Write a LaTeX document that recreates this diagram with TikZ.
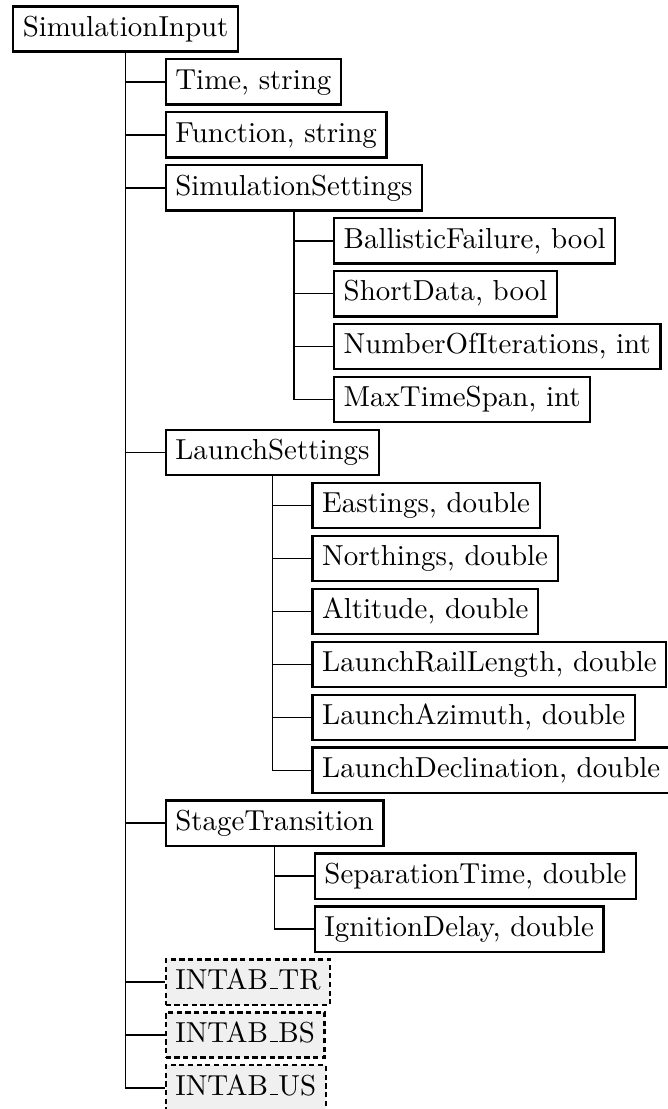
\documentclass[tikz,border=0pt]{standalone}
\usepackage{tikz}
\usepackage{xcolor}
\usetikzlibrary{positioning}

\newcommand{\uscore}{\leavevmode\kern.06em\vbox{\hrule width.3em}}

\tikzset{
  field/.style={draw, line width=0.8pt, anchor=west, inner sep=3.33pt, text height=7pt, text depth=2pt},
  tabfield/.style={field, dash pattern=on 1.8pt off 1.2pt, fill=black!6},
  link/.style={line width=0.5pt}
}

\begin{document}
\begin{tikzpicture}
  \useasboundingbox (-4.15pt,10.03pt) rectangle (226.65pt,-373.7pt);
  % Rows
  \foreach \k in {0,...,20} \coordinate (r\k) at (0,-\k*18.32pt);

  % Root
  \node[field] (root) at (r0) {SimulationInput};

  % Level 1
  \node[field, xshift=13.5pt] (time) at (root.south |- r1) {Time, string};
  \node[field, xshift=13.5pt] (func) at (root.south |- r2) {Function, string};
  \node[field, xshift=13.5pt] (simset) at (root.south |- r3) {SimulationSettings};
  \node[field, xshift=13.5pt] (launch) at (root.south |- r8) {LaunchSettings};
  \node[field, xshift=13.5pt] (stage) at (root.south |- r15) {StageTransition};
  \node[tabfield, xshift=13.5pt] (intr) at (root.south |- r18) {INTAB\uscore TR};
  \node[tabfield, xshift=13.5pt] (inbs) at (root.south |- r19) {INTAB\uscore BS};
  \node[tabfield, xshift=13.5pt] (inus) at (root.south |- r20) {INTAB\uscore US};

  % Simulation settings
  \node[field, xshift=13.5pt] (ballistic) at (simset.south |- r4) {BallisticFailure, bool};
  \node[field, xshift=13.5pt] (shortdata) at (simset.south |- r5) {ShortData, bool};
  \node[field, xshift=13.5pt] (niter) at (simset.south |- r6) {NumberOfIterations, int};
  \node[field, xshift=13.5pt] (maxspan) at (simset.south |- r7) {MaxTimeSpan, int};

  % Launch settings
  \node[field, xshift=13.5pt] (east) at (launch.south |- r9) {Eastings, double};
  \node[field, xshift=13.5pt] (north) at (launch.south |- r10) {Northings, double};
  \node[field, xshift=13.5pt] (alt) at (launch.south |- r11) {Altitude, double};
  \node[field, xshift=13.5pt] (rail) at (launch.south |- r12) {LaunchRailLength, double};
  \node[field, xshift=13.5pt] (azim) at (launch.south |- r13) {LaunchAzimuth, double};
  \node[field, xshift=13.5pt] (decl) at (launch.south |- r14) {LaunchDeclination, double};

  % Stage transition
  \node[field, xshift=13.5pt] (septime) at (stage.south |- r16) {SeparationTime, double};
  \node[field, xshift=13.5pt] (igdelay) at (stage.south |- r17) {IgnitionDelay, double};

  % Connections
  \foreach \c in {time,func,simset,launch,stage,intr,inbs,inus}
    \draw[link] (root.south) |- (\c.west);
  \foreach \c in {ballistic,shortdata,niter,maxspan}
    \draw[link] (simset.south) |- (\c.west);
  \foreach \c in {east,north,alt,rail,azim,decl}
    \draw[link] (launch.south) |- (\c.west);
  \foreach \c in {septime,igdelay}
    \draw[link] (stage.south) |- (\c.west);
\end{tikzpicture}
\end{document}
